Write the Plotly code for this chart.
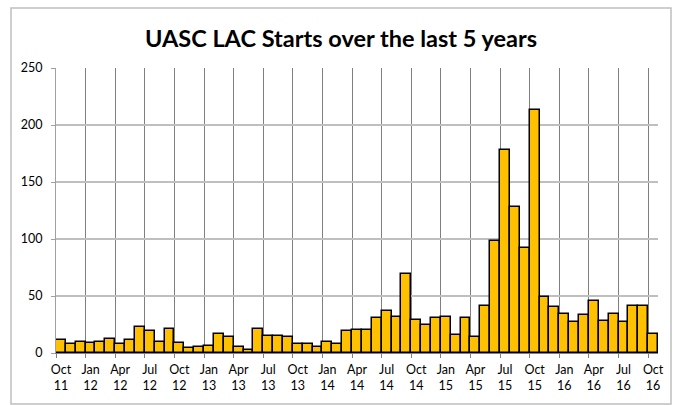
import plotly.graph_objects as go

months = ["Oct 11","Nov 11","Dec 11","Jan 12","Feb 12","Mar 12","Apr 12","May 12","Jun 12","Jul 12","Aug 12","Sep 12",
          "Oct 12","Nov 12","Dec 12","Jan 13","Feb 13","Mar 13","Apr 13","May 13","Jun 13","Jul 13","Aug 13","Sep 13",
          "Oct 13","Nov 13","Dec 13","Jan 14","Feb 14","Mar 14","Apr 14","May 14","Jun 14","Jul 14","Aug 14","Sep 14",
          "Oct 14","Nov 14","Dec 14","Jan 15","Feb 15","Mar 15","Apr 15","May 15","Jun 15","Jul 15","Aug 15","Sep 15",
          "Oct 15","Nov 15","Dec 15","Jan 16","Feb 16","Mar 16","Apr 16","May 16","Jun 16","Jul 16","Aug 16","Sep 16",
          "Oct 16"]
starts = [11, 8, 10, 9, 10, 12, 8, 11, 23, 19, 10, 21,
          9, 4, 5, 6, 17, 14, 5, 3, 21, 15, 15, 14,
          8, 8, 5, 10, 8, 19, 20, 20, 31, 37, 32, 69,
          29, 25, 31, 32, 16, 31, 14, 41, 98, 178, 128, 92,
          213, 49, 40, 34, 27, 33, 46, 28, 34, 27, 41, 41,
          17]
tick_labels = ["Oct<br>11","Jan<br>12","Apr<br>12","Jul<br>12","Oct<br>12","Jan<br>13","Apr<br>13","Jul<br>13",
               "Oct<br>13","Jan<br>14","Apr<br>14","Jul<br>14","Oct<br>14","Jan<br>15","Apr<br>15","Jul<br>15",
               "Oct<br>15","Jan<br>16","Apr<br>16","Jul<br>16","Oct<br>16"]

idx = list(range(len(months)))
tick_pos = idx[::3]
grid_pos = [i - 0.5 for i in tick_pos]

fig = go.Figure(go.Bar(
    x=idx, y=starts, hovertext=months,
    marker=dict(color="#FFC000", line=dict(color="#000000", width=1.5)),
))

L, R, T, B = 56, 24, 68, 52
W, H = 682, 405
pw, ph = W - L - R, H - T - B
FONT = "Lato, Liberation Sans, sans-serif"

fig.update_layout(
    width=W, height=H,
    margin=dict(l=L, r=R, t=T, b=B, autoexpand=False),
    paper_bgcolor="white", plot_bgcolor="white",
    bargap=0,
    showlegend=False,
    font=dict(family=FONT, size=12, color="#000000"),
    title=dict(text="<b>UASC LAC Starts over the last 5 years</b>",
               x=0.5, xanchor="center", y=1 - 39 / H, yanchor="middle",
               xref="container", yref="container",
               font=dict(family=FONT, size=23.5, color="#000000")),
    xaxis=dict(range=[-0.5, len(months) - 0.5], tickmode="array",
               tickvals=tick_pos, ticktext=tick_labels, ticks="", showgrid=False,
               showline=True, linecolor="#808080", linewidth=1, zeroline=False,
               ticklabelstandoff=5,
               tickfont=dict(family=FONT, size=12.5, color="#000000"),
               minor=dict(tickmode="array", tickvals=grid_pos, showgrid=True,
                          gridcolor="#7f7f7f", gridwidth=1, ticks="outside",
                          ticklen=4, tickcolor="#808080")),
    yaxis=dict(range=[0, 250], tickmode="array", tickvals=[0, 50, 100, 150, 200, 250],
               showgrid=True, gridcolor="#bfbfbf", gridwidth=1.5,
               showline=True, linecolor="#a0a0a0", linewidth=1, zeroline=False,
               ticks="outside", ticklen=4, tickcolor="#a0a0a0",
               ticklabelstandoff=6,
               tickfont=dict(family=FONT, size=12.5, color="#000000")),
)

fig.add_shape(type="rect", xref="paper", yref="paper", layer="below",
              x0=(11 - L) / pw, x1=(671 - L) / pw,
              y0=-(404 - (T + ph)) / ph,
              y1=(T + ph - 8) / ph,
              line=dict(color="#bfbfbf", width=1.5), fillcolor="rgba(0,0,0,0)")

fig.write_html("out.html", config={"displayModeBar": False},
               post_script="document.body.style.margin='0';document.body.style.overflow='hidden';")
